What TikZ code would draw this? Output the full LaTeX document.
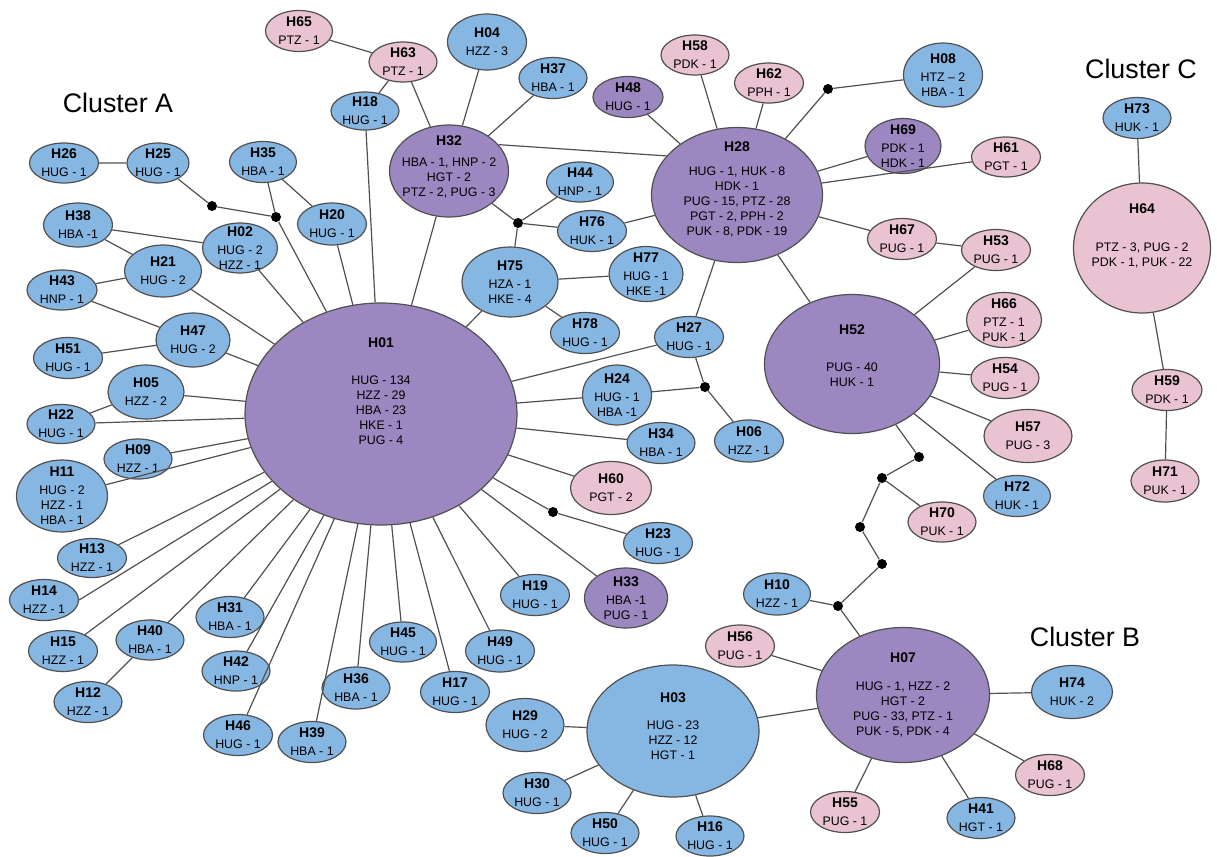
\documentclass[tikz,border=0pt]{standalone}
\usepackage{fontspec}
\setmainfont{Liberation Sans}
\usepackage{xcolor}
\usetikzlibrary{shapes.geometric}
\definecolor{hblue}{HTML}{86B7E3}
\definecolor{hpink}{HTML}{EAC3D3}
\definecolor{hpurp}{HTML}{9C87C1}
\definecolor{hline}{HTML}{505050}
\newcommand{\hn}[1]{{\fontsize{7}{8}\selectfont\bfseries #1}}
\tikzset{
    hap/.style={ellipse, draw=hline, line width=0.6pt, inner sep=0pt},
    hb/.style={hap, fill=hblue},
    hk/.style={hap, fill=hpink},
    hv/.style={hap, fill=hpurp},
    sz/.style 2 args={minimum width=#1*0.5pt, minimum height=#2*0.5pt},
    txt/.style={align=center, inner sep=0pt, font=\fontsize{6.2}{7.5}\selectfont},
    jn/.style={circle, fill=black, inner sep=0pt, minimum size=5pt},
    lnk/.style={draw=hline, line width=0.6pt},
    clus/.style={font=\fontsize{13.4}{16}\selectfont}
}
\begin{document}
\begin{tikzpicture}[x=0.5pt, y=-0.5pt]
        \useasboundingbox (0,0) rectangle (1217,857);
        \node[clus] (cla) at (118,103) {Cluster A};
        \node[clus] (clb) at (1085,637) {Cluster B};
        \node[clus] (clc) at (1141,69) {Cluster C};

        % cluster A, top
        \node[hk, sz={67}{41}, label={[txt]center:{\hn{H65}\\[1.5pt]PTZ - 1}}] (H65) at (299,31) {};
        \node[hk, sz={68}{40}, label={[txt]center:{\hn{H63}\\[1.5pt]PTZ - 1}}] (H63) at (403,62) {};
        \node[hb, sz={68}{38}, label={[txt]center:{\hn{H18}\\[1.5pt]HUG - 1}}] (H18) at (365,111) {};
        \node[hb, sz={79}{56}, label={[txt]center:{\hn{H04}\\[1.5pt]HZZ - 3}}] (H04) at (487,42) {};
        \node[hb, sz={68}{41}, label={[txt]center:{\hn{H37}\\[1.5pt]HBA - 1}}] (H37) at (553,78) {};
        \node[hv, sz={119}{92}, label={[txt, yshift=2pt]center:{\hn{H32}\\[3pt]HBA - 1, HNP - 2\\HGT - 2\\PTZ - 2, PUG - 3}}] (H32) at (449,171) {};
        \node[hb, sz={67}{40}, label={[txt]center:{\hn{H44}\\[1.5pt]HNP - 1}}] (H44) at (580,182) {};
        \node[hb, sz={69}{41}, label={[txt]center:{\hn{H76}\\[1.5pt]HUK - 1}}] (H76) at (592,231) {};
        \node[hb, sz={96}{70}, label={[txt]center:{\hn{H75}\\[1.5pt]HZA - 1\\HKE - 4}}] (H75) at (510,282) {};
        \node[hb, sz={74}{55}, label={[txt]center:{\hn{H77}\\[1.5pt]HUG - 1\\HKE -1}}] (H77) at (646,274) {};
        \node[hb, sz={69}{41}, label={[txt]center:{\hn{H78}\\[1.5pt]HUG - 1}}] (H78) at (585,333) {};

        % cluster A, left
        \node[hb, sz={69}{40}, label={[txt]center:{\hn{H26}\\[1.5pt]HUG - 1}}] (H26) at (64,163) {};
        \node[hb, sz={62}{40}, label={[txt]center:{\hn{H25}\\[1.5pt]HUG - 1}}] (H25) at (158,163) {};
        \node[hb, sz={67}{41}, label={[txt]center:{\hn{H35}\\[1.5pt]HBA - 1}}] (H35) at (263,162) {};
        \node[hb, sz={69}{42}, label={[txt]center:{\hn{H20}\\[1.5pt]HUG - 1}}] (H20) at (332,224) {};
        \node[hb, sz={69}{44}, label={[txt]center:{\hn{H38}\\[1.5pt]HBA -1}}] (H38) at (78,225) {};
        \node[hb, sz={75}{50}, label={[txt]center:{\hn{H02}\\[1.5pt]HUG - 2\\HZZ - 1}}] (H02) at (240,248) {};
        \node[hb, sz={77}{52}, label={[txt]center:{\hn{H21}\\[1.5pt]HUG - 2}}] (H21) at (163,271) {};
        \node[hb, sz={70}{40}, label={[txt]center:{\hn{H43}\\[1.5pt]HNP - 1}}] (H43) at (62,290) {};
        \node[hb, sz={74}{54}, label={[txt]center:{\hn{H47}\\[1.5pt]HUG - 2}}] (H47) at (193,340) {};
        \node[hb, sz={69}{41}, label={[txt]center:{\hn{H51}\\[1.5pt]HUG - 1}}] (H51) at (68,358) {};
        \node[hb, sz={76}{54}, label={[txt]center:{\hn{H05}\\[1.5pt]HZZ - 2}}] (H05) at (146,392) {};
        \node[hb, sz={68}{39}, label={[txt]center:{\hn{H22}\\[1.5pt]HUG - 1}}] (H22) at (61,424) {};
        \node[hb, sz={68}{40}, label={[txt]center:{\hn{H09}\\[1.5pt]HZZ - 1}}] (H09) at (138,459) {};
        \node[hb, sz={91}{72}, label={[txt]center:{\hn{H11}\\[1.5pt]HUG - 2\\HZZ - 1\\HBA - 1}}] (H11) at (62,496) {};
        \node[hb, sz={69}{39}, label={[txt]center:{\hn{H13}\\[1.5pt]HZZ - 1}}] (H13) at (92,558) {};
        \node[hb, sz={69}{41}, label={[txt]center:{\hn{H14}\\[1.5pt]HZZ - 1}}] (H14) at (44,600) {};
        \node[hb, sz={69}{41}, label={[txt]center:{\hn{H15}\\[1.5pt]HZZ - 1}}] (H15) at (63,651) {};
        \node[hb, sz={68}{40}, label={[txt]center:{\hn{H40}\\[1.5pt]HBA - 1}}] (H40) at (150,640) {};
        \node[hb, sz={68}{41}, label={[txt]center:{\hn{H12}\\[1.5pt]HZZ - 1}}] (H12) at (88,702) {};

        % cluster A, bottom
        \node[hb, sz={68}{41}, label={[txt]center:{\hn{H31}\\[1.5pt]HBA - 1}}] (H31) at (230,617) {};
        \node[hb, sz={68}{40}, label={[txt]center:{\hn{H42}\\[1.5pt]HNP - 1}}] (H42) at (236,671) {};
        \node[hb, sz={69}{41}, label={[txt]center:{\hn{H46}\\[1.5pt]HUG - 1}}] (H46) at (238,735) {};
        \node[hb, sz={68}{41}, label={[txt]center:{\hn{H39}\\[1.5pt]HBA - 1}}] (H39) at (312,742) {};
        \node[hb, sz={68}{42}, label={[txt]center:{\hn{H36}\\[1.5pt]HBA - 1}}] (H36) at (356,688) {};
        \node[hb, sz={67}{40}, label={[txt]center:{\hn{H45}\\[1.5pt]HUG - 1}}] (H45) at (403,642) {};
        \node[hb, sz={69}{41}, label={[txt]center:{\hn{H17}\\[1.5pt]HUG - 1}}] (H17) at (455,692) {};
        \node[hb, sz={69}{42}, label={[txt]center:{\hn{H49}\\[1.5pt]HUG - 1}}] (H49) at (500,651) {};
        \node[hb, sz={69}{41}, label={[txt]center:{\hn{H19}\\[1.5pt]HUG - 1}}] (H19) at (535,595) {};
        \node[hv, sz={83}{60}, label={[txt]center:{\hn{H33}\\[1.5pt]HBA -1\\PUG - 1}}] (H33) at (626,598) {};

        % cluster A, right
        \node[hb, sz={69}{41}, label={[txt]center:{\hn{H27}\\[1.5pt]HUG - 1}}] (H27) at (689,337) {};
        \node[hb, sz={69}{60}, label={[txt]center:{\hn{H24}\\[1.5pt]HUG - 1\\HBA -1}}] (H24) at (617,395) {};
        \node[hb, sz={69}{42}, label={[txt]center:{\hn{H06}\\[1.5pt]HZZ - 1}}] (H06) at (749,441) {};
        \node[hb, sz={68}{41}, label={[txt]center:{\hn{H34}\\[1.5pt]HBA - 1}}] (H34) at (661,443) {};
        \node[hk, sz={81}{53}, label={[txt]center:{\hn{H60}\\[1.5pt]PGT - 2}}] (H60) at (611,488) {};
        \node[hb, sz={69}{41}, label={[txt]center:{\hn{H23}\\[1.5pt]HUG - 1}}] (H23) at (658,543) {};

        \node[hv, sz={272}{222}, label={[txt, yshift=11.5pt]center:{\hn{H01}\\[11pt]HUG - 134\\HZZ - 29\\HBA - 23\\HKE - 1\\PUG - 4}}] (H01) at (381,414) {};

        % H28 group
        \node[hv, sz={70}{41}, label={[txt]center:{\hn{H48}\\[1.5pt]HUG - 1}}] (H48) at (628,97) {};
        \node[hk, sz={68}{40}, label={[txt]center:{\hn{H58}\\[1.5pt]PDK - 1}}] (H58) at (695,55) {};
        \node[hk, sz={69}{40}, label={[txt]center:{\hn{H62}\\[1.5pt]PPH - 1}}] (H62) at (769,83) {};
        \node[hb, sz={79}{64}, label={[txt]center:{\hn{H08}\\[1.5pt]HTZ – 2\\HBA - 1}}] (H08) at (943,75) {};
        \node[hv, sz={76}{55}, label={[txt]center:{\hn{H69}\\[1.5pt]PDK - 1\\HDK - 1}}] (H69) at (903,146) {};
        \node[hk, sz={69}{40}, label={[txt]center:{\hn{H61}\\[1.5pt]PGT - 1}}] (H61) at (1006,157) {};
        \node[hk, sz={69}{41}, label={[txt]center:{\hn{H67}\\[1.5pt]PUG - 1}}] (H67) at (902,239) {};
        \node[hk, sz={69}{41}, label={[txt]center:{\hn{H53}\\[1.5pt]PUG - 1}}] (H53) at (996,250) {};
        \node[hv, sz={171}{135}, label={[txt, yshift=3pt]center:{\hn{H28}\\[4.5pt]HUG - 1, HUK - 8\\HDK - 1\\PUG - 15, PTZ - 28\\PGT - 2, PPH - 2\\PUK - 8, PDK - 19}}] (H28) at (737,195) {};

        % H52 group
        \node[hv, sz={175}{139}, label={[txt, yshift=4pt]center:{\hn{H52}\\[11pt]PUG - 40\\HUK - 1}}] (H52) at (852,364) {};
        \node[hk, sz={75}{55}, label={[txt]center:{\hn{H66}\\[1.5pt]PTZ - 1\\PUK - 1}}] (H66) at (1004,320) {};
        \node[hk, sz={68}{41}, label={[txt]center:{\hn{H54}\\[1.5pt]PUG - 1}}] (H54) at (1005,378) {};
        \node[hk, sz={88}{53}, label={[txt]center:{\hn{H57}\\[1.5pt]PUG - 3}}] (H57) at (1028,436) {};
        \node[hb, sz={67}{41}, label={[txt]center:{\hn{H72}\\[1.5pt]HUK - 1}}] (H72) at (1017,496) {};
        \node[hk, sz={68}{40}, label={[txt]center:{\hn{H70}\\[1.5pt]PUK - 1}}] (H70) at (942,522) {};

        % cluster B
        \node[hb, sz={67}{42}, label={[txt]center:{\hn{H10}\\[1.5pt]HZZ - 1}}] (H10) at (777,594) {};
        \node[hk, sz={69}{42}, label={[txt]center:{\hn{H56}\\[1.5pt]PUG - 1}}] (H56) at (740,646) {};
        \node[hv, sz={173}{135}, label={[txt]center:{\hn{H07}\\[6.5pt]HUG - 1, HZZ - 2\\HGT - 2\\PUG - 33, PTZ - 1\\PUK - 5, PDK - 4}}] (H07) at (903,695) {};
        \node[hb, sz={81}{53}, label={[txt]center:{\hn{H74}\\[1.5pt]HUK - 2}}] (H74) at (1072,692) {};
        \node[hk, sz={69}{41}, label={[txt]center:{\hn{H68}\\[1.5pt]PUG - 1}}] (H68) at (1050,775) {};
        \node[hk, sz={69}{41}, label={[txt]center:{\hn{H55}\\[1.5pt]PUG - 1}}] (H55) at (845,812) {};
        \node[hb, sz={68}{41}, label={[txt]center:{\hn{H41}\\[1.5pt]HGT - 1}}] (H41) at (981,818) {};
        \node[hb, sz={172}{132}, label={[txt, yshift=2.5pt]center:{\hn{H03}\\[6pt]HUG - 23\\HZZ - 12\\HGT - 1}}] (H03) at (673,731) {};
        \node[hb, sz={78}{53}, label={[txt]center:{\hn{H29}\\[1.5pt]HUG - 2}}] (H29) at (525,725) {};
        \node[hb, sz={68}{41}, label={[txt]center:{\hn{H30}\\[1.5pt]HUG - 1}}] (H30) at (537,793) {};
        \node[hb, sz={68}{41}, label={[txt]center:{\hn{H50}\\[1.5pt]HUG - 1}}] (H50) at (605,833) {};
        \node[hb, sz={68}{40}, label={[txt]center:{\hn{H16}\\[1.5pt]HUG - 1}}] (H16) at (710,836) {};

        % cluster C
        \node[hb, sz={68}{41}, label={[txt]center:{\hn{H73}\\[1.5pt]HUK - 1}}] (H73) at (1137,118) {};
        \node[hk, sz={137}{130}, label={[txt, yshift=6pt]center:{\hn{H64}\\[11.5pt]PTZ - 3, PUG - 2\\PDK - 1, PUK - 22}}] (H64) at (1142,248) {};
        \node[hk, sz={70}{41}, label={[txt]center:{\hn{H59}\\[1.5pt]PDK - 1}}] (H59) at (1167,390) {};
        \node[hk, sz={68}{42}, label={[txt]center:{\hn{H71}\\[1.5pt]PUK - 1}}] (H71) at (1165,481) {};

        % median vectors
        \node[jn] (j1) at (212,206) {};
        \node[jn] (j2) at (276,217) {};
        \node[jn] (j3) at (518,223) {};
        \node[jn] (j4) at (828,89) {};
        \node[jn] (j5) at (705,387) {};
        \node[jn] (j6) at (553,512) {};
        \node[jn] (j7) at (919,457) {};
        \node[jn] (j8) at (882,478) {};
        \node[jn] (j9) at (860,527) {};
        \node[jn] (j10) at (882,564) {};
        \node[jn] (j11) at (838,606) {};

        % spokes of H01
        \draw[lnk] (H01) -- (H18) (H01) -- (H32) (H01) -- (H20) (H01) -- (j2) (H01) -- (H02);
        \draw[lnk] (H01) -- (H21) (H01) -- (H47) (H01) -- (H05) (H01) -- (H22) (H01) -- (H09);
        \draw[lnk] (H01) -- (H11) (H01) -- (H13) (H01) -- (H14.east) (H01) -- (H15) (H01) -- (H40);
        \draw[lnk] (H01) -- (H31) (H01) -- (H42) (H01) -- (H46) (H01) -- (H39) (H01) -- (H36);
        \draw[lnk] (H01) -- (H45) (H01) -- (H17) (H01) -- (H49) (H01) -- (H19) (H01) -- (H33);
        \draw[lnk] (H01) -- (j6) (H01) -- (H60) (H01) -- (H34) (H01) -- (H24) (H01) -- (H27);
        \draw[lnk] (H01) -- (H75);
        % side links in cluster A
        \draw[lnk] (j6) -- (H23);
        \draw[lnk] (j2) -- (H35);
        \draw[lnk] (j2) -- (j1) -- (H25) -- (H26);
        \draw[lnk] (H35) -- (H20);
        \draw[lnk] (H38) -- (H02);
        \draw[lnk] (H38) -- (H21);
        \draw[lnk] (H43) -- (H21);
        \draw[lnk] (H43) -- (H47);
        \draw[lnk] (H51) -- (H47);
        \draw[lnk] (H05) -- (H22);
        \draw[lnk] (H40) -- (H12);
        \draw[lnk] (H24) -- (j5) -- (H06);
        \draw[lnk] (H27) -- (j5);
        \draw[lnk] (H75) -- (H77);
        \draw[lnk] (H75) -- (H78);
        \draw[lnk] (H65) -- (H63) -- (H18);
        \draw[lnk] (H63) -- (H32);
        \draw[lnk] (H04) -- (H32);
        \draw[lnk] (H37) -- (H32);
        \draw[lnk] (H32.28) -- (H28.151);
        \draw[lnk] (H32) -- (j3);
        \draw[lnk] (H44) -- (j3);
        \draw[lnk] (H76) -- (j3);
        \draw[lnk] (H75) -- (j3);
        % around H28
        \draw[lnk] (H76) -- (H28);
        \draw[lnk] (H48) -- (H28);
        \draw[lnk] (H58) -- (H28);
        \draw[lnk] (H62) -- (H28);
        \draw[lnk] (H28) -- (j4) -- (H08);
        \draw[lnk] (H69) -- (H28);
        \draw[lnk] (H61) -- (H28);
        \draw[lnk] (H67) -- (H28);
        \draw[lnk] (H67) -- (H53);
        \draw[lnk] (H28) -- (H52);
        \draw[lnk] (H28) -- (H27);
        \draw[lnk] (H53) -- (H52);
        % around H52
        \draw[lnk] (H52) -- (H66);
        \draw[lnk] (H52) -- (H54);
        \draw[lnk] (H52) -- (H57);
        \draw[lnk] (H52) -- (H72);
        \draw[lnk] (H52) -- (j7) -- (j8) -- (j9) -- (j10) -- (j11) -- (H07);
        \draw[lnk] (j8) -- (H70);
        \draw[lnk] (H10) -- (j11);
        % cluster B
        \draw[lnk] (H07) -- (H56);
        \draw[lnk] (H07) -- (H03);
        \draw[lnk] (H07) -- (H74);
        \draw[lnk] (H07) -- (H68);
        \draw[lnk] (H07) -- (H55);
        \draw[lnk] (H07) -- (H41);
        \draw[lnk] (H03) -- (H29);
        \draw[lnk] (H03) -- (H30);
        \draw[lnk] (H03) -- (H50);
        \draw[lnk] (H03) -- (H16);
        % cluster C
        \draw[lnk] (H73) -- (H64) -- (H59) -- (H71);
    \end{tikzpicture}
\end{document}
